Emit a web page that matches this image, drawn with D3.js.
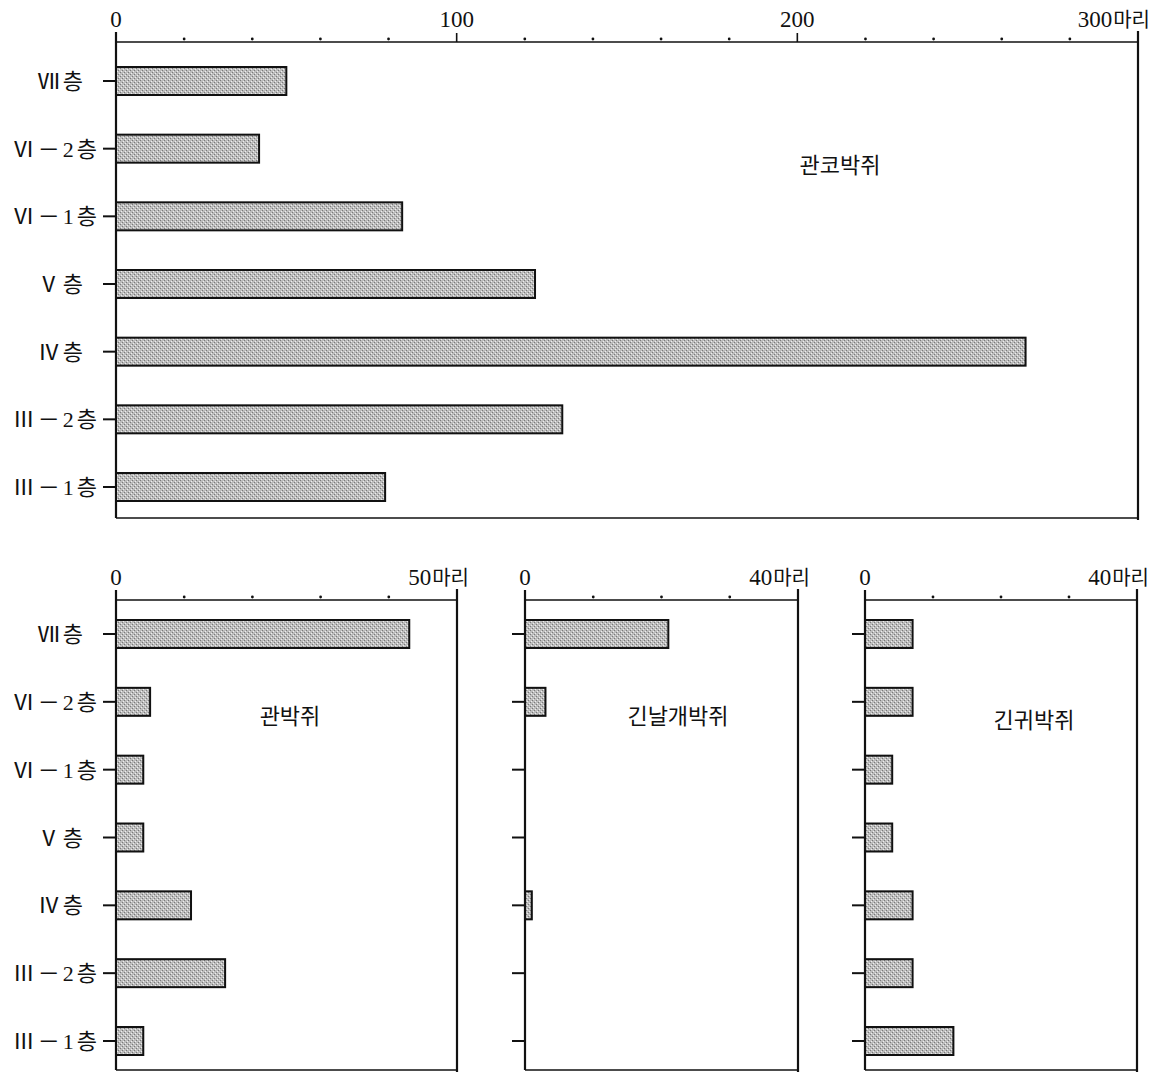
<!DOCTYPE html>
<html><head><meta charset="utf-8">
<script src="https://cdn.jsdelivr.net/npm/d3@7"></script>
<style>
html,body{margin:0;padding:0;background:#fff;}
text{font-family:"Liberation Serif","Noto Sans CJK KR",serif;fill:#111;}
.kr{font-family:"Noto Sans CJK KR","Liberation Serif",sans-serif;}
</style></head>
<body><svg id="c" width="1159" height="1075"></svg>
<script>
// ---- data ----
const categories = ["Ⅶ층","Ⅵ－2층","Ⅵ－1층","Ⅴ층","Ⅳ층","Ⅲ－2층","Ⅲ－1층"];
const species = ["관코박쥐","관박쥐","긴날개박쥐","긴귀박쥐"];
const valuesGwanko   = [50, 42, 84, 123, 267, 131, 79];
const valuesGwan     = [43, 5, 4, 4, 11, 16, 4];
const valuesGinnalgae= [21, 3, 0, 0, 1, 0, 0];
const valuesGingwi   = [7, 7, 4, 4, 7, 7, 13];
const maxGwanko = 300, ticksGwanko = [0,100,200,300], minorGwanko = [20,40,60,80,120,140,160,180,220,240,260,280];
const maxGwan = 50, ticksGwan = [0,50], minorGwan = [10,20,30,40];
const max40 = 40, ticks40 = [0,40], minor40 = [10,20,30];
const unit = "마리";

const svg = d3.select("#c");
const defs = svg.append("defs");
const pat = defs.append("pattern").attr("id","tone").attr("patternUnits","userSpaceOnUse")
  .attr("width",4).attr("height",4);
pat.append("rect").attr("width",4).attr("height",4).attr("fill","#bcbcbc");
pat.append("rect").attr("x",0).attr("y",0).attr("width",1).attr("height",1).attr("fill","#7a7a7a");
pat.append("rect").attr("x",2).attr("y",2).attr("width",1).attr("height",1).attr("fill","#7a7a7a");
pat.append("rect").attr("x",1).attr("y",3).attr("width",1).attr("height",1).attr("fill","#eeeeee");
pat.append("rect").attr("x",3).attr("y",1).attr("width",1).attr("height",1).attr("fill","#eeeeee");

function panel(o){
  const g = svg.append("g");
  const x = d3.scaleLinear().domain([0,o.max]).range([o.x0,o.x1]);
  const y = d3.scalePoint().domain(categories).range([o.yc0,o.yc1]);
  const bh = 28;
  // frame
  g.append("line").attr("x1",o.x0).attr("x2",o.x1).attr("y1",o.top).attr("y2",o.top).attr("stroke","#111").attr("stroke-width",1.6);
  g.append("line").attr("x1",o.x0).attr("x2",o.x0).attr("y1",o.top-10).attr("y2",o.bottom).attr("stroke","#111").attr("stroke-width",2.2);
  g.append("line").attr("x1",o.x1).attr("x2",o.x1).attr("y1",o.top-11).attr("y2",o.bottom+2).attr("stroke","#111").attr("stroke-width",2.2);
  g.append("line").attr("x1",o.x0).attr("x2",o.x1).attr("y1",o.bottom).attr("y2",o.bottom).attr("stroke","#111").attr("stroke-width",1.6);
  // major ticks
  o.ticks.slice(1,-1).forEach(t=>{
    g.append("line").attr("x1",x(t)).attr("x2",x(t)).attr("y1",o.top-9).attr("y2",o.top).attr("stroke","#111").attr("stroke-width",1.6);
  });
  // minor dots
  g.selectAll("circle.m").data(o.minor).join("circle").attr("class","m")
    .attr("cx",d=>x(d)).attr("cy",o.top-3).attr("r",1.4).attr("fill","#111");
  // tick labels
  o.ticks.forEach((t,i)=>{
    const last = i===o.ticks.length-1;
    const tx = g.append("text").attr("y",o.top-15).attr("font-size",23);
    if(last){
      tx.attr("x",x(t)+12).attr("text-anchor","end");
      tx.append("tspan").text(t);
      tx.append("tspan").attr("class","kr").attr("font-size",20).attr("dx",1).text(unit);
    } else {
      tx.attr("x",x(t)).attr("text-anchor","middle").text(t);
    }
  });
  // category ticks
  g.selectAll("line.ct").data(categories).join("line").attr("class","ct")
    .attr("x1",o.x0-13).attr("x2",o.x0).attr("y1",d=>y(d)).attr("y2",d=>y(d))
    .attr("stroke","#111").attr("stroke-width",2);
  if(o.labels){
    g.selectAll("text.cat").data(categories).join("text").attr("class","cat")
      .attr("x",d=> o.x0-16 - (d.length<=2?14:0)).attr("y",d=>y(d)+8)
      .attr("text-anchor","end").attr("font-size",22).attr("letter-spacing",3)
      .text(d=>d);
  }
  // bars
  g.selectAll("rect.bar").data(o.values).join("rect").attr("class","bar")
    .attr("x",o.x0).attr("y",(d,i)=>y(categories[i])-bh/2)
    .attr("width",d=>Math.max(0,x(d)-o.x0)).attr("height",bh)
    .attr("fill","url(#tone)").attr("stroke",d=>d>0?"#111":"none").attr("stroke-width",2)
    .attr("display",d=>d>0?null:"none");
  // species name
  g.append("text").attr("class","kr").attr("x",o.nx).attr("y",o.ny).attr("text-anchor","middle")
    .attr("font-size",22).text(o.name);
}

panel({x0:116,x1:1138,top:42,bottom:518,yc0:81,yc1:487,max:maxGwanko,ticks:ticksGwanko,minor:minorGwanko,
       values:valuesGwanko,labels:true,name:species[0],nx:840,ny:173});
panel({x0:116,x1:457,top:600,bottom:1070,yc0:634,yc1:1041,max:maxGwan,ticks:ticksGwan,minor:minorGwan,
       values:valuesGwan,labels:true,name:species[1],nx:290,ny:724});
panel({x0:525,x1:798,top:600,bottom:1070,yc0:634,yc1:1041,max:max40,ticks:ticks40,minor:minor40,
       values:valuesGinnalgae,labels:false,name:species[2],nx:678,ny:724});
panel({x0:865,x1:1137,top:600,bottom:1070,yc0:634,yc1:1041,max:max40,ticks:ticks40,minor:minor40,
       values:valuesGingwi,labels:false,name:species[3],nx:1034,ny:728});
</script></body></html>
